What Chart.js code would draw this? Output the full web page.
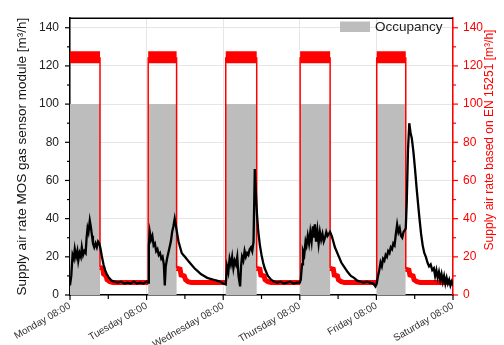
<!DOCTYPE html>
<html>
<head>
<meta charset="utf-8">
<script src="https://cdn.jsdelivr.net/npm/chart.js@4.4.1/dist/chart.umd.min.js"></script>
<style>
  body { margin: 0; background: #fff; }
  #chart { display: block; }
</style>
</head>
<body>
<canvas id="chart" width="504" height="345"></canvas>
<script>
// hours counted from Monday 08:00
const dayLabels = ['Monday 08:00', 'Tuesday 08:00', 'Wednesday 08:00', 'Thursday 08:00', 'Friday 08:00', 'Saturday 08:00'];

// occupancy blocks (start / end hour)
const occStart = [0, 24.5, 48.8, 72.1, 96.1];
const occEnd = [9.4, 33.4, 58.5, 81.5, 105.2];
const occLevel = 100;

// supply air rate based on EN 15251 (right axis)
const redHours = [0, 9.4, 9.4, 10.3, 10.5, 11.3, 11.6, 12.5, 13.5, 24.5,
    24.5, 33.4, 33.4, 34.5, 34.8, 35.8, 36.2, 37, 38, 48.8,
    48.8, 58.5, 58.5, 59.5, 59.8, 60.8, 61.1, 62, 63, 72.1,
    72.1, 81.5, 81.5, 82.5, 82.8, 83.8, 84.1, 85, 86, 96.1,
    96.1, 105.2, 105.2, 106.2, 106.5, 107.5, 107.8, 108.7, 109.7, 120];
const redValues = [124.5, 124.5, 14.5, 14, 11, 10, 8, 7, 6.5, 6.5,
    124.5, 124.5, 14, 13.5, 10.5, 10, 8, 7, 6.5, 6.5,
    124.5, 124.5, 14, 13.5, 10.5, 10, 8, 7, 6.5, 6.5,
    124.5, 124.5, 14, 13.5, 10.5, 10, 8, 7, 6.5, 6.5,
    124.5, 124.5, 13.5, 13, 10.5, 10, 8, 7, 6.5, 6.5];

// supply air rate MOS gas sensor module (left axis)
const blackHours = [0, 0.4, 0.8, 1.2, 1.5, 1.9, 2.3, 2.6, 3, 3.4, 3.7, 4.1, 4.5, 4.9, 5.2, 5.5, 5.8, 6.2, 6.5, 6.9,
    7.2, 7.6, 8, 8.4, 8.8, 9.2, 9.6, 10, 10.5, 11, 11.5, 12, 12.5, 13, 14, 15, 16, 17, 18, 19,
    20, 21, 22, 23, 24, 24.5,
    24.7, 25, 25.4, 25.8, 26.2, 26.6, 27, 27.4, 27.8, 28.2, 28.6, 29, 29.4, 29.7, 30, 30.4, 30.8, 31.2, 31.6, 32,
    32.4, 32.8, 33.2, 33.6, 34, 34.5, 35, 35.5, 36, 37, 38, 39, 40, 41, 42, 43, 44, 45, 46, 47,
    48, 48.8,
    49.2, 49.6, 50, 50.4, 50.8, 51.2, 51.6, 52, 52.4, 52.8, 53.3, 53.6, 53.9, 54.3, 54.7, 55.1, 55.5, 55.9, 56.3, 56.7,
    57.1, 57.5, 57.9, 58.2, 58.6, 59, 59.5, 60, 60.5, 61, 61.5, 62, 62.5, 63, 64, 65, 66, 67, 68, 69,
    70, 71, 72,
    72.3, 72.7, 73, 73.4, 73.8, 74.1, 74.5, 74.9, 75.3, 75.7, 76.1, 76.4, 76.7, 77.1, 77.5, 77.9, 78.3, 78.7, 79.1, 79.5,
    79.9, 80.3, 80.7, 81.1, 81.5, 82, 82.5, 83, 84, 85, 86, 87, 88, 89, 90, 91, 92, 93, 94, 95,
    95.7, 96.1,
    96.5, 96.9, 97.3, 97.7, 98.1, 98.5, 98.9, 99.3, 99.7, 100.1, 100.5, 100.9, 101.3, 101.7, 102.1, 102.5, 102.9, 103.3, 103.7, 104.1,
    104.5, 104.9, 105.2, 105.5, 105.9, 106.3, 106.7, 107.1, 107.6, 108.1, 108.6, 109.1, 109.5, 110, 110.5, 111, 111.5, 112, 112.5, 113,
    113.5, 114, 114.4, 114.8, 115.2, 115.6, 116, 116.4, 116.8, 117.2, 117.6, 118, 118.4, 118.8, 119.2, 119.6, 120];
const blackValues = [5, 10, 21, 19, 24, 20, 23, 18, 22, 20, 25, 21, 23, 22, 30, 35, 33, 39, 36, 31,
    27, 25, 27, 25, 28, 27, 24, 20, 16, 13, 11, 9.5, 8.5, 7.5, 7, 6.5, 7, 6, 6.5, 6,
    7, 6, 6.5, 6, 7, 6.5,
    26, 33, 29, 31, 26, 27, 23, 24, 21, 22, 19, 20, 16, 5, 15, 19, 22, 25, 28, 33,
    36, 40, 36, 32, 28, 25, 22, 21, 20, 18, 16, 14, 12.5, 11, 10, 9, 8.5, 8, 7.5, 7,
    6, 5.5,
    15, 12, 19, 16, 20, 14, 18, 16, 20, 10, 4.5, 15, 20, 18, 23, 20, 22, 21, 24, 25,
    23, 28, 66, 55, 42, 33, 26, 21, 17, 14, 12, 10, 9, 8, 7, 6.5, 7, 6, 6.5, 7,
    6, 6.5, 6.5,
    8, 16, 23, 21, 28, 26, 31, 27, 33, 28, 36, 30, 37, 28, 34, 27, 33, 29, 32, 28,
    30, 33, 31, 32, 33, 31, 28, 25, 21, 17, 14.5, 12, 10, 9, 7.5, 7, 6.5, 7, 6.5, 6,
    4.5, 6,
    10, 13, 17, 15, 19, 18, 21, 20, 23, 22, 25, 24, 27, 26, 32, 37, 33, 35, 31, 30,
    33, 34, 35, 48, 76, 90, 85, 82, 75, 66, 56, 47, 40, 32, 26, 22, 20, 17, 15, 16,
    13, 14, 10, 13, 9, 12, 8, 11, 7, 10, 6, 9, 6, 8, 5, 7, 5];

const yTicks = [0, 20, 40, 60, 80, 100, 120, 140];

const FONT = 'Liberation Sans, Arial, sans-serif';
const GRAY = '#bdbdbd';
const RED = '#ff0000';

const occData = [];
occStart.forEach((s, i) => {
    occData.push({ x: s, y: 0 }, { x: s, y: occLevel }, { x: occEnd[i], y: occLevel }, { x: occEnd[i], y: 0 });
});
const redData = redHours.map((h, i) => ({ x: h, y: redValues[i] }));
const blackData = blackHours.map((h, i) => ({ x: h, y: blackValues[i] }));

// ticks, frame, titles and legend
const decorPlugin = {
    id: 'decor',
    afterDraw(chart) {
        const ctx = chart.ctx;
        const a = chart.chartArea;
        const x = chart.scales.x, y = chart.scales.y, y2 = chart.scales.y2;
        ctx.save();
        ctx.lineWidth = 1.5;
        // top frame
        ctx.strokeStyle = '#000';
        ctx.beginPath();
        ctx.moveTo(a.left, a.top);
        ctx.lineTo(a.right, a.top);
        ctx.stroke();
        // bottom ticks
        ctx.lineWidth = 1.2;
        for (let h = 0; h <= 120; h += 12) {
            const px = x.getPixelForValue(h);
            ctx.beginPath();
            ctx.moveTo(px, a.bottom);
            ctx.lineTo(px, a.bottom + (h % 24 === 0 ? 5 : 4));
            ctx.stroke();
        }
        // left / right ticks
        for (let v = 0; v <= 140; v += 10) {
            const major = v % 20 === 0;
            const py = y.getPixelForValue(v);
            ctx.strokeStyle = '#000';
            ctx.beginPath();
            ctx.moveTo(a.left, py);
            ctx.lineTo(a.left - (major ? 5 : 3), py);
            ctx.stroke();
            const py2 = y2.getPixelForValue(v);
            ctx.strokeStyle = RED;
            ctx.beginPath();
            ctx.moveTo(a.right, py2);
            ctx.lineTo(a.right + (major ? 5 : 3), py2);
            ctx.stroke();
        }
        // axis titles
        ctx.textAlign = 'center';
        ctx.textBaseline = 'middle';
        ctx.font = '13.5px ' + FONT;
        ctx.fillStyle = '#111';
        ctx.save();
        ctx.translate(22, (a.top + a.bottom) / 2);
        ctx.rotate(-Math.PI / 2);
        ctx.fillText('Supply air rate MOS gas sensor module [m³/h]', 0, 0);
        ctx.restore();
        ctx.font = '12px ' + FONT;
        ctx.fillStyle = RED;
        ctx.save();
        ctx.translate(490, 140);
        ctx.rotate(-Math.PI / 2);
        ctx.fillText('Supply air rate based on EN 15251 [m³/h]', 0, 0);
        ctx.restore();
        // legend
        ctx.fillStyle = GRAY;
        ctx.fillRect(340, 21.5, 30, 10.5);
        ctx.fillStyle = '#222';
        ctx.textAlign = 'left';
        ctx.font = '13.5px ' + FONT;
        ctx.fillText('Occupancy', 375, 27);
        ctx.restore();
    }
};

new Chart(document.getElementById('chart'), {
    type: 'line',
    data: {
        datasets: [
            {
                label: 'MOS gas sensor module',
                data: blackData,
                yAxisID: 'y',
                borderColor: '#000',
                borderWidth: 2.3,
                pointRadius: 0,
                fill: false,
                order: 0
            },
            {
                label: 'EN 15251',
                data: redData,
                yAxisID: 'y2',
                borderColor: RED,
                borderWidth: 1.5,
                pointRadius: 0,
                fill: false,
                order: 1,
                segment: {
                    borderWidth: c => {
                        const a = c.p0.parsed.y, b = c.p1.parsed.y;
                        if (a > 100 && b > 100) return 12;
                        if (a < 20 && b < 20) return 5;
                        return 1.5;
                    }
                }
            },
            {
                label: 'Occupancy',
                data: occData,
                yAxisID: 'y',
                borderWidth: 0,
                backgroundColor: GRAY,
                pointRadius: 0,
                fill: 'origin',
                order: 2
            }
        ]
    },
    options: {
        responsive: false,
        animation: false,
        layout: { padding: { top: 12, left: 0, right: 0, bottom: 0 } },
        plugins: {
            legend: { display: false },
            tooltip: { enabled: false }
        },
        scales: {
            x: {
                type: 'linear',
                min: 0,
                max: 120,
                afterFit: s => { s.height = 50; },
                ticks: {
                    stepSize: 12,
                    autoSkip: false,
                    minRotation: 30,
                    maxRotation: 30,
                    padding: 5,
                    color: '#333',
                    font: { family: FONT, size: 10 },
                    callback: v => (v % 24 === 0 ? dayLabels[v / 24] : '')
                },
                grid: {
                    drawTicks: false,
                    color: c => (c.tick && c.tick.value % 24 === 0 ? '#e6e6e6' : 'rgba(0,0,0,0)')
                },
                border: { color: '#000', width: 1.5 }
            },
            y: {
                position: 'left',
                min: 0,
                max: 145,
                afterFit: s => { s.width = 70; },
                afterBuildTicks: s => { s.ticks = yTicks.map(v => ({ value: v })); },
                ticks: {
                    padding: 11,
                    color: '#222',
                    font: { family: FONT, size: 12 }
                },
                grid: { drawTicks: false, color: '#e6e6e6' },
                border: { color: '#000', width: 1.5 }
            },
            y2: {
                position: 'right',
                min: 0,
                max: 145,
                afterFit: s => { s.width = 51; },
                afterBuildTicks: s => { s.ticks = yTicks.map(v => ({ value: v })); },
                ticks: {
                    padding: 10,
                    color: RED,
                    font: { family: FONT, size: 12 }
                },
                grid: { display: false, drawTicks: false },
                border: { color: RED, width: 1.5 }
            }
        }
    },
    plugins: [decorPlugin]
});
</script>
</body>
</html>
